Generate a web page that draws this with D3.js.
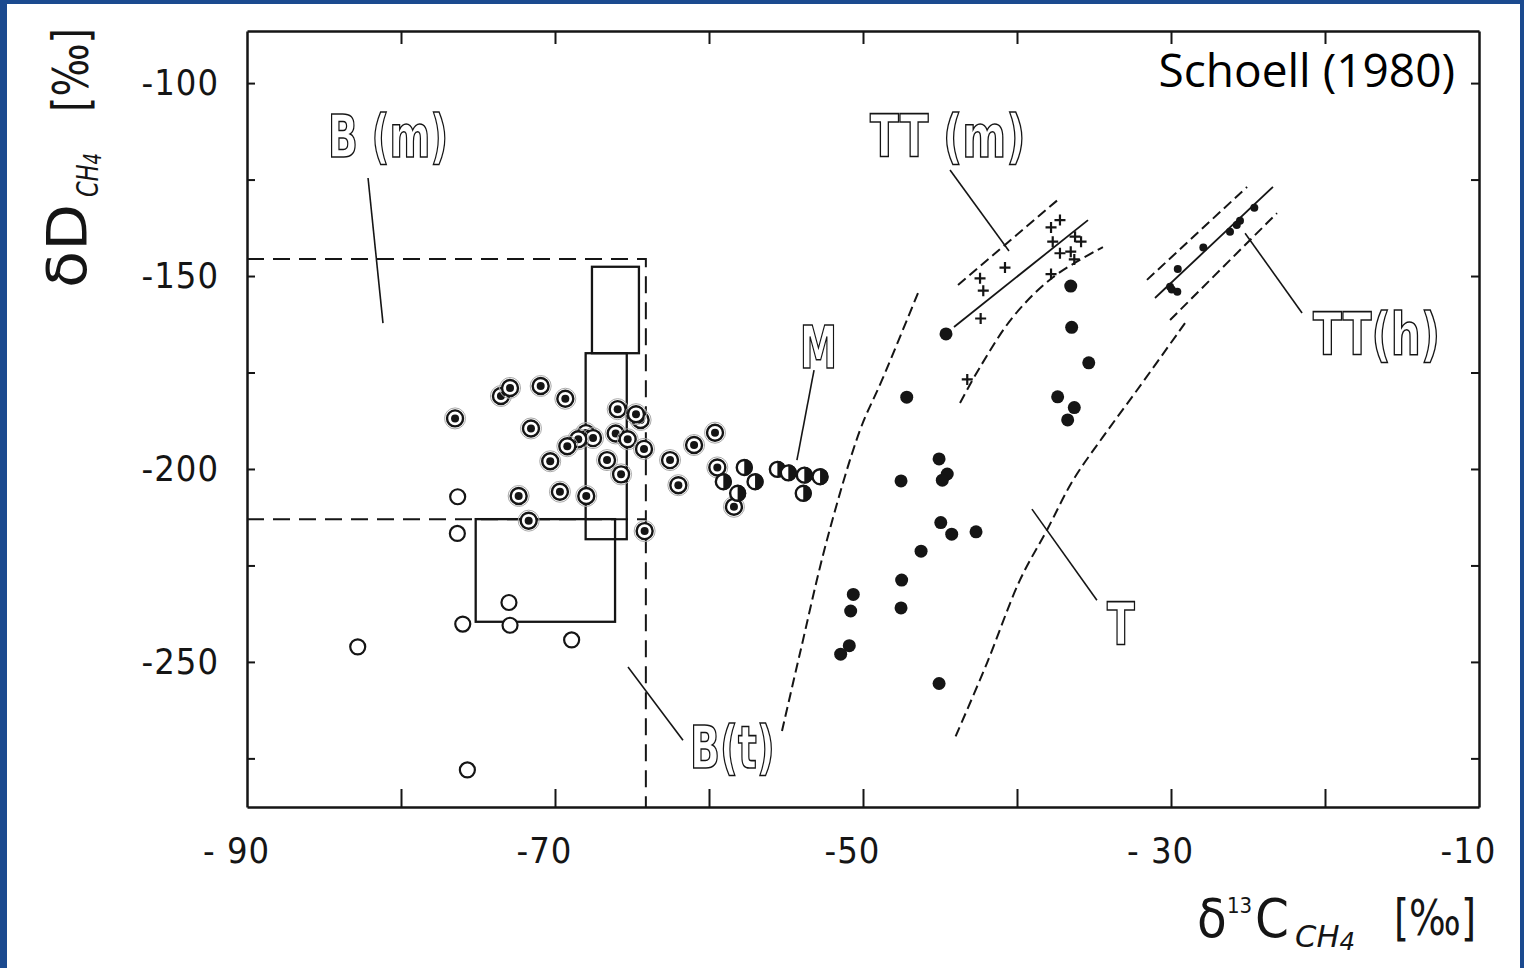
<!DOCTYPE html>
<html>
<head>
<meta charset="utf-8">
<script src="https://cdn.jsdelivr.net/npm/d3@7"></script>
<style>
  body { margin: 0; background: #fff; }
  svg { display: block; }
</style>
</head>
<body>
<svg id="graph" width="1524" height="968"></svg>
<script>
// delta13C / deltaD of methane
const openPts = [[-76.32,-207.2],[-76.34,-216.7],[-72.99,-234.6],[-75.99,-240.2],[-72.92,-240.5],
  [-68.92,-244.3],[-82.81,-246.1],[-75.69,-278.0]];
const ringPts = [[-76.49,-186.9],[-73.51,-181.1],[-72.92,-179.0],[-70.93,-178.5],[-69.33,-181.8],
  [-71.56,-189.5],[-65.93,-184.5],[-64.44,-187.3],[-64.74,-185.8],[-67.99,-190.7],[-67.53,-192.0],
  [-68.49,-192.3],[-69.20,-194.1],[-66.06,-190.8],[-65.28,-192.3],[-64.22,-194.8],[-70.31,-198.0],
  [-66.62,-197.7],[-65.71,-201.4],[-69.68,-205.9],[-72.36,-207.0],[-67.97,-207.0],[-71.71,-213.4],
  [-64.18,-216.1],[-59.61,-190.6],[-60.97,-193.8],[-62.53,-197.7],[-61.99,-204.2],[-59.46,-199.6],
  [-58.38,-209.8]];
const halfPts = [[-57.71,-199.6],[-59.07,-203.3],[-57.01,-203.3],[-58.14,-206.3],[-55.56,-200.1],
  [-54.85,-201.0],[-53.81,-201.6],[-52.79,-202.0],[-53.88,-206.3]];
const fillPts = [[-47.16,-181.4],[-45.06,-197.4],[-47.53,-203.1],[-44.53,-201.3],[-44.85,-202.9],
  [-44.95,-213.9],[-44.24,-216.9],[-42.66,-216.3],[-46.23,-221.3],[-47.49,-228.8],[-47.53,-236.0],
  [-50.63,-232.5],[-50.80,-236.8],[-50.89,-245.8],[-51.45,-248.0],[-45.06,-255.6],[-44.61,-165.0],
  [-36.51,-152.6],[-36.45,-163.3],[-35.34,-172.5],[-37.36,-181.3],[-36.28,-184.1],[-36.71,-187.3]];
const crossPts = [[-37.21,-135.5],[-37.79,-137.4],[-37.68,-141.1],[-36.23,-139.8],[-35.84,-141.1],
  [-37.21,-144.1],[-36.51,-143.7],[-36.28,-145.7],[-40.78,-147.8],[-42.40,-150.6],[-42.19,-153.8],
  [-37.79,-149.5],[-42.36,-161.0],[-43.23,-176.8]];
const tthDots = [[-24.59,-132.3],[-25.52,-135.7],[-25.73,-136.8],[-26.17,-138.5],[-27.90,-142.6],
  [-29.56,-148.2],[-30.06,-152.8],[-29.95,-153.5],[-29.59,-154.1]];

// field boundaries
const bmBox = [[-90,-145.6],[-64.1,-145.6],[-64.1,-287.6]];
const btTop = [[-90,-213.0],[-64.1,-213.0]];
const boxes = [
  { x0: -67.60, x1: -64.55, y0: -147.6, y1: -170.0 },
  { x0: -68.01, x1: -65.34, y0: -170.0, y1: -218.2 },
  { x0: -75.15, x1: -66.10, y0: -213.0, y1: -239.6 }
];
const mCurve = [[-46.43,-154.4],[-48.77,-177.0],[-50.19,-189.9],[-52.34,-218.4],[-54.09,-247.7],[-55.26,-267.9]];
const tCurve = [[-29.09,-162.2],[-32.21,-179.6],[-34.42,-191.7],[-36.36,-202.9],[-38.05,-215.8],
  [-39.81,-228.8],[-41.95,-250.3],[-44.03,-269.7]];
const ttmUpper = [[-43.83,-152.3],[-37.21,-129.8]];
const ttmMid = [[-44.09,-163.2],[-35.39,-135.5]];
const ttmLower = [[-43.70,-182.9],[-42.40,-173.6],[-40.26,-160.6],[-37.66,-150.3],[-34.42,-142.5]];
const tthUpper = [[-31.56,-151.0],[-25.06,-126.9]];
const tthMid = [[-31.04,-155.7],[-23.38,-126.9]];
const tthLower = [[-30.06,-161.4],[-23.12,-133.7]];

const leaders = [
  [[-82.14,-124.6],[-81.17,-162.2]],
  [[-44.35,-122.5],[-40.52,-143.5]],
  [[-25.19,-138.9],[-21.49,-159.6]],
  [[-53.18,-174.4],[-54.29,-197.7]],
  [[-39.03,-210.4],[-34.81,-234.0]],
  [[-65.26,-251.3],[-61.69,-270.3]]
];
const regionNames = ['B (m)', 'TT (m)', 'TT(h)', 'M', 'T', 'B(t)'];
const regionAt = [[-84.74,-119.2],[-49.55,-119.2],[-20.78,-170.5],[-54.09,-173.9],[-34.16,-245.6],[-61.23,-277.5]];
const regionSpan = [7.8, 10.1, 8.25, 2.4, 1.8, 5.5];

const xTicks = [-90, -80, -70, -60, -50, -40, -30, -20, -10];
const xLabels = { '-90': '- 90', '-70': '-70', '-50': '-50', '-30': '- 30', '-10': '-10' };
const yTicks = [-100, -125, -150, -175, -200, -225, -250, -275];
const yLabels = { '-100': '-100', '-150': '-150', '-200': '-200', '-250': '-250' };

document.addEventListener('DOMContentLoaded', function () {
    const svg = d3.select('#graph');
    const width = +svg.attr('width');
    const height = +svg.attr('height');
    const ink = '#151515';
    const tickFont = '"DejaVu Sans Condensed", "DejaVu Sans", sans-serif';

    // slide background
    svg.append('rect').attr('width', width).attr('height', height).attr('fill', '#1b4a8f');
    svg.append('rect').attr('x', 7).attr('y', 4).attr('width', width - 11).attr('height', height - 4).attr('fill', '#fff');

    const x = d3.scaleLinear().domain([-90, -10]).range([247, 1479]);
    const y = d3.scaleLinear().domain([-287.6, -86.5]).range([807, 31]);
    const line = d3.line().x(d => x(d[0])).y(d => y(d[1]));
    const smooth = d3.line().x(d => x(d[0])).y(d => y(d[1])).curve(d3.curveCatmullRom);

    // axes (ticks point inward)
    const inner = xTicks.filter(v => v > -90 && v < -10);
    const gb = svg.append('g').attr('transform', `translate(0, ${y(-287.6)})`)
        .call(d3.axisBottom(x).tickValues(xTicks).tickSizeInner(-18).tickSizeOuter(0).tickPadding(30)
            .tickFormat(v => xLabels[v] || ''));
    gb.selectAll('.tick line').filter(v => v === -90 || v === -10).remove();
    gb.selectAll('text').attr('dx', -11);

    svg.append('g').attr('transform', `translate(0, ${y(-86.5)})`)
        .call(d3.axisTop(x).tickValues(inner).tickSizeInner(-13).tickSizeOuter(0).tickFormat(''));

    svg.append('g').attr('transform', `translate(${x(-90)}, 0)`)
        .call(d3.axisLeft(y).tickValues(yTicks).tickSizeInner(-8).tickSizeOuter(0).tickPadding(28)
            .tickFormat(v => yLabels[v] || ''));

    svg.append('g').attr('transform', `translate(${x(-10)}, 0)`)
        .call(d3.axisRight(y).tickValues(yTicks).tickSizeInner(-8).tickSizeOuter(0).tickFormat(''));

    svg.selectAll('.domain').attr('stroke', ink).attr('stroke-width', 2.5);
    svg.selectAll('.tick line').attr('stroke', ink).attr('stroke-width', 2);
    svg.selectAll('.tick text').attr('font-family', tickFont).attr('font-size', 36)
        .attr('fill', ink).attr('letter-spacing', 1);

    // field outlines
    const fields = svg.append('g').attr('fill', 'none').attr('stroke', ink);
    fields.append('path').attr('d', line(bmBox)).attr('stroke-width', 2).attr('stroke-dasharray', '17,9');
    fields.append('path').attr('d', line(btTop)).attr('stroke-width', 2).attr('stroke-dasharray', '17,9');
    fields.selectAll('.box').data(boxes).enter().append('rect')
        .attr('x', d => x(d.x0)).attr('y', d => y(d.y0))
        .attr('width', d => x(d.x1) - x(d.x0)).attr('height', d => y(d.y1) - y(d.y0))
        .attr('stroke-width', 2.3);
    [mCurve, tCurve, ttmUpper, ttmLower, tthUpper, tthLower].forEach(c => {
        fields.append('path').attr('d', smooth(c)).attr('stroke-width', 2).attr('stroke-dasharray', '10,5');
    });
    [ttmMid, tthMid].forEach(c => {
        fields.append('path').attr('d', line(c)).attr('stroke-width', 1.8);
    });
    leaders.forEach(l => {
        fields.append('path').attr('d', line(l)).attr('stroke-width', 1.6);
    });

    // stencil-like region names
    svg.selectAll('.region').data(regionNames).enter().append('text')
        .attr('x', (d, i) => x(regionAt[i][0])).attr('y', (d, i) => y(regionAt[i][1]))
        .attr('textLength', (d, i) => x(regionAt[i][0] + regionSpan[i]) - x(regionAt[i][0]))
        .attr('lengthAdjust', 'spacingAndGlyphs')
        .attr('font-family', tickFont).attr('font-weight', 'bold').attr('font-size', 58)
        .attr('fill', '#fff').attr('stroke', ink).attr('stroke-width', 1.6)
        .text(d => d);

    // symbols
    svg.selectAll('.open').data(openPts).enter().append('circle')
        .attr('cx', d => x(d[0])).attr('cy', d => y(d[1])).attr('r', 7.5)
        .attr('fill', '#fff').attr('stroke', ink).attr('stroke-width', 2.2);

    const ring = svg.selectAll('.ring').data(ringPts).enter().append('g')
        .attr('transform', d => `translate(${x(d[0])}, ${y(d[1])})`);
    ring.append('circle').attr('r', 10.5).attr('fill', 'none').attr('stroke', '#aaa').attr('stroke-width', 1);
    ring.append('circle').attr('r', 8).attr('fill', '#fff').attr('stroke', ink).attr('stroke-width', 2.4);
    ring.append('circle').attr('r', 4).attr('fill', ink);

    const half = svg.selectAll('.half').data(halfPts).enter().append('g')
        .attr('transform', d => `translate(${x(d[0])}, ${y(d[1])})`);
    half.append('circle').attr('r', 7.5).attr('fill', '#fff').attr('stroke', ink).attr('stroke-width', 2.4);
    half.append('path').attr('fill', ink)
        .attr('d', d3.arc()({ innerRadius: 0, outerRadius: 8.5, startAngle: 0, endAngle: Math.PI }));

    svg.selectAll('.fill').data(fillPts).enter().append('circle')
        .attr('cx', d => x(d[0])).attr('cy', d => y(d[1])).attr('r', 6.5).attr('fill', ink);

    svg.selectAll('.cross').data(crossPts).enter().append('path')
        .attr('transform', d => `translate(${x(d[0])}, ${y(d[1])})`)
        .attr('d', 'M-5.5,0H5.5M0,-5.5V5.5').attr('stroke', ink).attr('stroke-width', 2.2);

    svg.selectAll('.tth').data(tthDots).enter().append('circle')
        .attr('cx', d => x(d[0])).attr('cy', d => y(d[1])).attr('r', 4).attr('fill', ink);

    // axis titles
    const yt = svg.append('g').attr('transform', 'translate(0, 288) rotate(-90)')
        .attr('font-family', tickFont).attr('fill', ink);
    yt.append('text').attr('x', 0).attr('y', 86).attr('font-size', 56)
        .attr('textLength', 84).attr('lengthAdjust', 'spacingAndGlyphs').text('δD');
    const ysub = yt.append('text').attr('x', 91).attr('y', 98).attr('font-size', 30).attr('font-style', 'italic')
        .attr('textLength', 44).attr('lengthAdjust', 'spacingAndGlyphs');
    ysub.append('tspan').text('CH');
    ysub.append('tspan').attr('font-size', 24).attr('dy', 3).text('4');
    yt.append('text').attr('x', 176).attr('y', 88).attr('font-size', 50)
        .attr('textLength', 84).attr('lengthAdjust', 'spacingAndGlyphs').text('[‰]');

    const xt = svg.append('g').attr('font-family', tickFont).attr('fill', ink);
    const xmain = xt.append('text').attr('y', 937).attr('font-size', 54);
    xmain.append('tspan').attr('x', 1197).text('δ');
    xmain.append('tspan').attr('x', 1227).attr('dy', -24).attr('font-size', 22).text('13');
    xmain.append('tspan').attr('x', 1255).attr('dy', 24).text('C');
    const xsub = xt.append('text').attr('x', 1295).attr('y', 947).attr('font-size', 30).attr('font-style', 'italic')
        .attr('textLength', 60).attr('lengthAdjust', 'spacingAndGlyphs');
    xsub.append('tspan').text('CH');
    xsub.append('tspan').attr('font-size', 24).attr('dy', 3).text('4');
    xt.append('text').attr('x', 1394).attr('y', 935).attr('font-size', 50)
        .attr('textLength', 82).attr('lengthAdjust', 'spacingAndGlyphs').text('[‰]');

    svg.append('text').attr('x', 1455).attr('y', 87).attr('text-anchor', 'end')
        .attr('font-family', '"Open Sans", "Noto Sans", sans-serif').attr('font-size', 46)
        .attr('fill', '#000').text('Schoell (1980)');
});
</script>
</body>
</html>
